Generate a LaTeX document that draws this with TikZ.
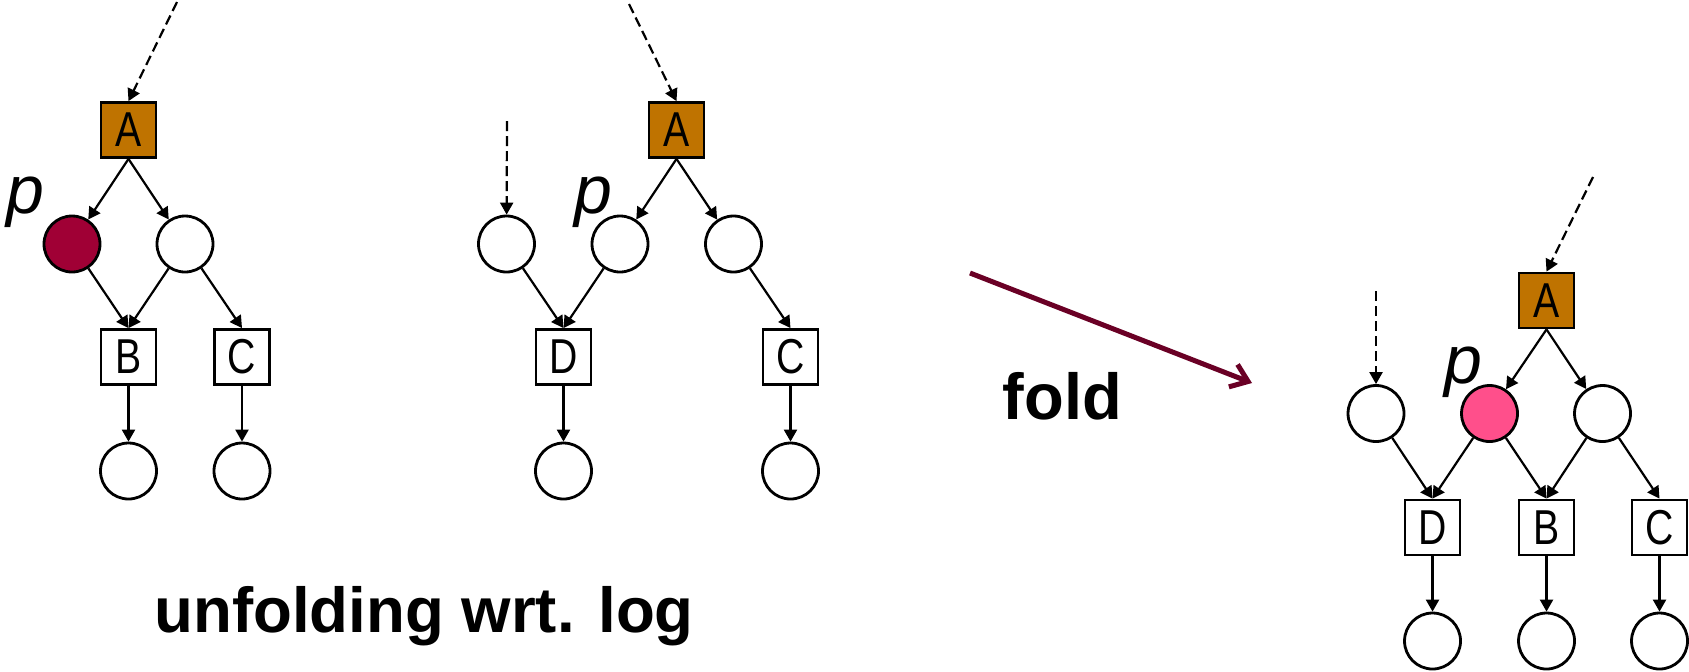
\documentclass[tikz,border=0pt]{standalone}
\usepackage{fontspec}
\setmainfont{Liberation Sans}
\newfontfamily\narrowfont[FakeStretch=0.8]{Liberation Sans}
\usetikzlibrary{arrows.meta}
\definecolor{transorange}{HTML}{BF7300}
\definecolor{pdark}{HTML}{A00035}
\definecolor{ppink}{HTML}{FF4F8B}
\definecolor{foldred}{HTML}{6A0025}

\begin{document}
\begin{tikzpicture}[x=0.5pt, y=-0.5pt,
        place/.style={circle, draw, line width=1.4pt, minimum size=28pt, inner sep=0pt},
        trans/.style={rectangle, draw, line width=1.4pt, minimum size=27.5pt, inner sep=0pt,
                      font=\narrowfont\fontsize{24.5}{24.5}\selectfont},
        arc/.style={-{Triangle[length=6pt, width=6.5pt]}, line width=1.1pt},
        inarc/.style={arc, dash pattern=on 5pt off 2.5pt},
        plabel/.style={inner sep=0pt, font=\itshape\fontsize{34}{34}\selectfont},
        caption/.style={anchor=base, font=\bfseries\fontsize{32.5}{32.5}\selectfont}]
        \useasboundingbox (0,0) rectangle (1689,671);

        % Left net
        \node[trans, fill=transorange] (A1) at (128.5,130) {A};
        \node[place, fill=pdark] (p1) at (72,244) {};
        \node[place] (r1) at (185,244) {};
        \node[trans] (B1) at (128.5,357) {B};
        \node[trans] (C1) at (242,357) {C};
        \node[place] (b1) at (128.5,471) {};
        \node[place] (c1) at (242,471) {};
        \node[plabel] (lp1) at (25,202) {p};
        \coordinate (in1) at (177,2);

        \draw[inarc] (in1) -- (A1.north);
        \draw[arc] (A1.south) -- (p1);
        \draw[arc] (A1.south) -- (r1);
        \draw[arc] (p1) -- (B1.north);
        \draw[arc] (r1) -- (B1.north);
        \draw[arc] (r1) -- (C1.north);
        \draw[arc] (B1) -- (b1);
        \draw[arc] (C1) -- (c1);

        % Middle net
        \node[trans, fill=transorange] (A2) at (676.5,130) {A};
        \node[place] (l2) at (506.5,244) {};
        \node[place] (p2) at (620,244) {};
        \node[place] (r2) at (733.5,244) {};
        \node[trans] (D2) at (563.5,357) {D};
        \node[trans] (C2) at (790.5,357) {C};
        \node[place] (d2) at (563.5,471) {};
        \node[place] (c2) at (790.5,471) {};
        \node[plabel] (lp2) at (593,202) {p};
        \coordinate (in2) at (629,4);
        \coordinate (in2b) at (507,121);

        \draw[inarc] (in2) -- (A2.north);
        \draw[inarc] (in2b) -- (l2);
        \draw[arc] (A2.south) -- (p2);
        \draw[arc] (A2.south) -- (r2);
        \draw[arc] (l2) -- (D2.north);
        \draw[arc] (p2) -- (D2.north);
        \draw[arc] (r2) -- (C2.north);
        \draw[arc] (D2) -- (d2);
        \draw[arc] (C2) -- (c2);

        \node[caption, font=\bfseries\fontsize{31.8}{31.8}\selectfont] (unf) at (424,632) {unfolding wrt. log};

        % Fold arrow
        \coordinate (f0) at (970,273);
        \coordinate (f1) at (1252,383);
        \draw[-{Straight Barb[length=8pt, width=12pt]}, line width=2.5pt, foldred] (f0) -- (f1);
        \node[caption] (fold) at (1062.5,419) {fold};

        % Folded net
        \node[trans, fill=transorange] (A3) at (1546.5,300.5) {A};
        \node[place] (l3) at (1376,413.5) {};
        \node[place, fill=ppink] (p3) at (1489.5,413.5) {};
        \node[place] (r3) at (1602.5,413.5) {};
        \node[trans] (D3) at (1432.5,527.5) {D};
        \node[trans] (B3) at (1546.5,527.5) {B};
        \node[trans] (C3) at (1659.5,527.5) {C};
        \node[place] (d3) at (1432.5,641) {};
        \node[place] (b3) at (1546.5,641) {};
        \node[place] (c3) at (1659.5,641) {};
        \node[plabel] (lp3) at (1463,372) {p};
        \coordinate (in3) at (1593,177);
        \coordinate (in3b) at (1376,291);

        \draw[inarc] (in3) -- (A3.north);
        \draw[inarc] (in3b) -- (l3);
        \draw[arc] (A3.south) -- (p3);
        \draw[arc] (A3.south) -- (r3);
        \draw[arc] (l3) -- (D3.north);
        \draw[arc] (p3) -- (D3.north);
        \draw[arc] (p3) -- (B3.north);
        \draw[arc] (r3) -- (B3.north);
        \draw[arc] (r3) -- (C3.north);
        \draw[arc] (D3) -- (d3);
        \draw[arc] (B3) -- (b3);
        \draw[arc] (C3) -- (c3);
    \end{tikzpicture}
\end{document}
